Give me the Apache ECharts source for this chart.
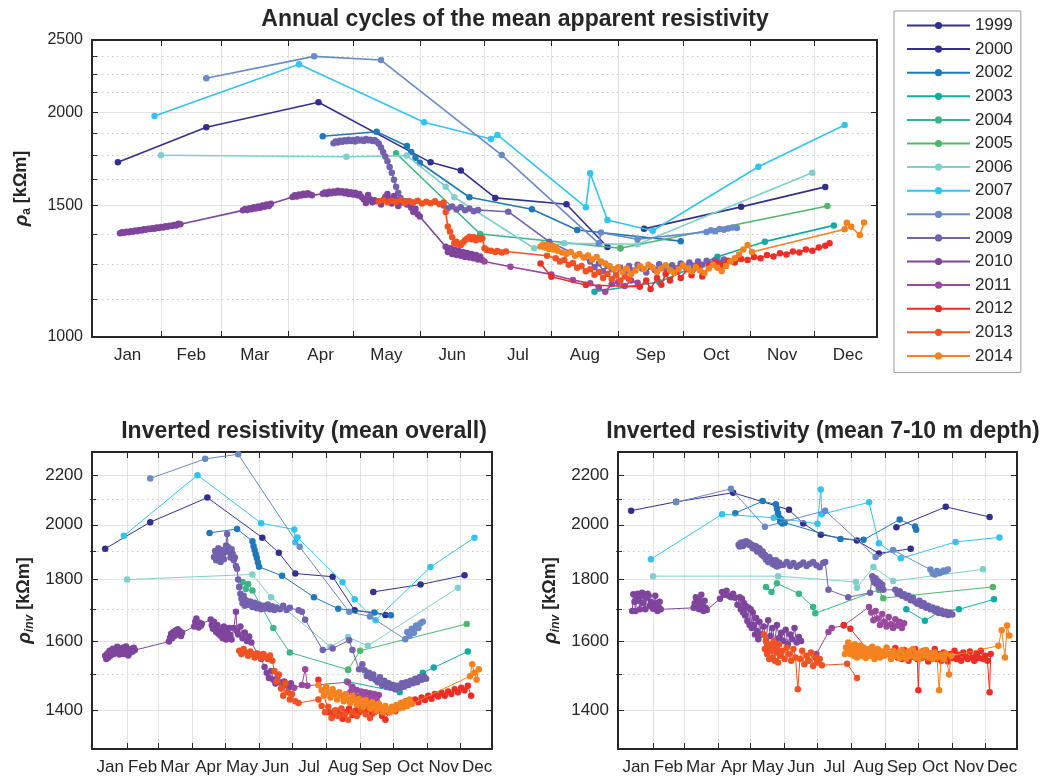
<!DOCTYPE html>
<html><head><meta charset="utf-8">
<script src="https://cdn.jsdelivr.net/npm/echarts@6/dist/echarts.min.js"></script>
<style>html,body{margin:0;padding:0;background:#fff}#c{width:1043px;height:777px}</style>
</head><body><div id="c"></div>
<script>
// ---------- labels / ticks ----------
const years = ['1999','2000','2002','2003','2004','2005','2006','2007','2008','2009','2010','2011','2012','2013','2014'];
const colors = ['#33308c','#332f8e','#1f78b8','#15aaa5','#3ab58a','#4eb76b','#7fcfca','#33c3ee','#6a89c8','#7361ae','#7f459c','#9a49a0','#ee2d26','#f05223','#f5821f'];
const monthLabels = ['Jan','Feb','Mar','Apr','May','Jun','Jul','Aug','Sep','Oct','Nov','Dec'];
const monthStarts = [31,59,90,120,151,181,212,243,273,304,334];
const monthMids = [15.5,45,74.5,105,135.5,166,196.5,227.5,258,288.5,319,349.5];
const topMajor = [1000,1500,2000,2500];
const topMinor = [1125,1250,1375,1625,1750,1875,2125,2250,2375];
const botMajor = [1400,1600,1800,2000,2200];
const botMinor = [1500,1700,1900,2100];
const titles = ['Annual cycles of the mean apparent resistivity','Inverted resistivity (mean overall)','Inverted resistivity (mean 7-10 m depth)'];

// ---------- apparent resistivity (top) : [day of year, kOhm m] ----------
const A1999 = [[255,1396],[300,1494],[339,1589]];
const A2000 = [[11,1715],[52,1910],[104,2063],[156,1714],[170,1671],[186,1536],[219,1506],[238,1320]];
const A2002 = [[106,1858],[131,1884],[145,1803],[147,1770],[149,1738],[151,1712],[174,1539],[203,1483],[224,1391],[272,1344]];
const A2003 = [[232,1150],[262,1185],[289,1281],[311,1342],[343,1411]];
const A2004 = [[140,1763],[179,1374],[244,1315]];
const A2005 = [[244,1315],[340,1498]];
const A2006 = [[31,1752],[117,1744],[145,1750],[163,1590],[167,1539],[204,1315],[218,1335],[252,1331],[333,1660]];
const A2007 = [[28,1978],[95,2320],[153,1940],[184,1842],[187,1865],[228,1492],[230,1657],[238,1435],[259,1388],[308,1691],[348,1923]];
const A2008 = [[52,2222],[102,2377],[133,2350],[189,1753],[234,1335],[235,1380],[252,1352],[284,1383],[286,1390],[288,1386],[290,1395],[292,1392],[294,1398],[296,1402],[298,1400]];
const A2009 = [[111,1818],[112,1828],[113,1822],[114,1832],[115,1826],[116,1835],[117,1829],[118,1838],[119,1831],[120,1836],[121,1828],[122,1840],[123,1833],[124,1838],[125,1830],[126,1842],[127,1835],[128,1838],[129,1830],[130,1836],[131,1826],[132,1815],[133,1795],[134,1770],[135,1745],[136,1720],[137,1690],[138,1660],[139,1625],[140,1590],[141,1560],[142,1535],[162,1500],[164,1488],[166,1496],[168,1482],[170,1492],[172,1478],[174,1486],[176,1474],[178,1480],[192,1472],[211,1342],[230,1262],[232,1240],[234,1255],[236,1225],[238,1245],[240,1232],[242,1210],[244,1238],[246,1222],[248,1245],[250,1228],[252,1250],[254,1235],[256,1220],[258,1242],[260,1230],[262,1252],[264,1238],[266,1226],[268,1248],[270,1236],[272,1255],[274,1242],[276,1258],[278,1246],[280,1262],[282,1250],[284,1265],[286,1255],[288,1268],[290,1258],[292,1270]];
const A2010 = [[12,1377],[13,1381],[14,1379],[15,1384],[16,1382],[17,1386],[18,1384],[19,1389],[20,1387],[21,1391],[22,1389],[23,1394],[24,1392],[25,1397],[26,1395],[27,1399],[28,1397],[29,1402],[30,1400],[31,1404],[32,1402],[33,1407],[34,1405],[35,1410],[36,1408],[37,1413],[38,1411],[39,1418],[40,1416],[69,1478],[70,1484],[71,1480],[72,1488],[73,1483],[74,1492],[75,1487],[76,1496],[77,1490],[78,1500],[79,1494],[80,1505],[81,1498],[82,1508],[92,1540],[93,1548],[94,1543],[95,1552],[96,1547],[97,1556],[98,1550],[99,1558],[100,1552],[101,1548],[106,1556],[107,1562],[108,1555],[109,1565],[110,1558],[111,1567],[112,1560],[113,1570],[114,1562],[115,1568],[116,1558],[117,1566],[118,1555],[119,1563],[120,1552],[121,1560],[122,1548],[123,1555],[124,1540],[125,1530],[126,1512],[127,1550],[128,1530],[129,1515],[130,1525],[131,1520],[133,1505],[135,1540],[136,1555],[137,1530],[138,1510],[139,1545],[140,1525],[141,1498],[143,1515],[145,1505],[147,1490],[148,1470],[149,1485],[150,1460],[151,1450],[163,1321],[164,1300],[165,1315],[166,1292],[167,1310],[168,1288],[169,1305],[170,1285],[171,1300],[172,1280],[173,1296],[174,1278],[175,1292],[176,1275],[177,1288],[178,1270],[179,1282],[180,1268]];
const A2011 = [[181,1262],[193,1242],[212,1213],[222,1192],[230,1180],[234,1165],[237,1150],[240,1178],[243,1185],[246,1170],[249,1190],[252,1182]];
const A2012 = [[207,1255],[212,1204],[228,1174],[253,1168],[256,1190],[258,1160],[261,1200],[263,1175],[265,1215],[267,1190],[270,1225],[272,1200],[275,1232],[277,1210],[280,1240],[282,1205],[285,1245],[288,1258],[291,1250],[294,1265],[297,1258],[300,1272],[303,1268],[306,1280],[309,1275],[312,1288],[315,1282],[318,1295],[321,1290],[324,1302],[327,1298],[330,1310],[333,1305],[336,1318],[339,1325],[341,1335]];
const A2013 = [[132,1520],[134,1526],[136,1515],[138,1523],[140,1517],[142,1525],[144,1512],[146,1521],[148,1514],[150,1522],[152,1510],[154,1518],[156,1511],[158,1520],[160,1507],[162,1514],[163,1470],[164,1406],[165,1385],[166,1360],[167,1335],[168,1342],[169,1330],[170,1328],[171,1338],[172,1348],[173,1355],[174,1362],[175,1352],[176,1360],[177,1348],[178,1358],[179,1352],[180,1356],[181,1315],[182,1308],[184,1305],[186,1300],[187,1304],[189,1298],[191,1302],[210,1285],[214,1275],[216,1262],[218,1268],[220,1250],[222,1256],[224,1238],[226,1245],[228,1225],[230,1232],[232,1212],[234,1222],[236,1200],[238,1215],[240,1195],[242,1210],[244,1190],[246,1205],[248,1195]];
const A2014 = [[207,1322],[208,1330],[209,1318],[210,1328],[211,1312],[212,1325],[213,1310],[214,1320],[215,1305],[217,1298],[219,1292],[221,1300],[223,1285],[225,1292],[227,1278],[229,1286],[231,1270],[233,1280],[235,1262],[237,1255],[239,1245],[241,1232],[243,1240],[245,1222],[247,1235],[249,1215],[251,1228],[253,1245],[255,1232],[257,1250],[259,1238],[261,1222],[263,1235],[265,1248],[267,1230],[269,1218],[271,1232],[273,1248],[275,1236],[277,1225],[279,1240],[281,1228],[283,1218],[285,1235],[287,1250],[289,1238],[291,1226],[293,1245],[295,1262],[297,1275],[299,1290],[301,1310],[303,1328],[305,1300],[348,1394],[349,1423],[351,1405],[355,1370],[357,1424]];

// ---------- inverted resistivity, mean overall (bottom left) ----------
const M1999 = [[255,1758],[298,1783],[338,1815]];
const M2000 = [[11,1910],[52,2010],[104,2107],[154,1951],[169,1895],[184,1821],[218,1810],[238,1697],[266,1682]];
const M2002 = [[106,1969],[131,1984],[145,1938],[146,1920],[147,1905],[148,1890],[149,1876],[150,1860],[151,1845],[172,1813],[201,1740],[223,1702],[256,1690],[271,1681]];
const M2003 = [[231,1480],[279,1450],[300,1505],[310,1520],[341,1568]];
const M2004 = [[133,1775],[136,1792],[139,1768],[141,1785],[145,1763],[164,1640],[179,1565],[232,1514]];
const M2005 = [[232,1514],[243,1570],[340,1653]];
const M2006 = [[31,1800],[145,1818],[162,1740],[216,1582],[232,1612],[250,1585],[332,1772]];
const M2007 = [[28,1958],[95,2200],[153,2006],[183,1982],[184,1934],[186,1952],[227,1791],[238,1733],[257,1665],[307,1844],[347,1951]];
const M2008 = [[52,2186],[102,2270],[132,2290],[188,1917],[233,1692],[252,1677],[284,1605],[286,1628],[288,1615],[290,1638],[292,1625],[294,1648],[296,1640],[298,1655],[300,1660]];
const M2009 = [[110,1880],[111,1902],[112,1868],[113,1895],[114,1912],[115,1882],[116,1862],[117,1905],[118,1888],[119,1872],[120,1898],[121,1922],[122,1965],[123,1915],[124,1898],[125,1878],[126,1908],[127,1892],[128,1868],[129,1878],[130,1848],[131,1838],[132,1800],[133,1775],[134,1752],[135,1735],[136,1720],[137,1745],[138,1712],[139,1730],[141,1715],[143,1726],[145,1708],[147,1722],[149,1704],[151,1716],[153,1700],[155,1712],[157,1703],[159,1716],[161,1700],[163,1710],[165,1698],[167,1706],[170,1700],[173,1712],[176,1698],[179,1705],[187,1697],[190,1692],[193,1666],[209,1572],[218,1577],[233,1602],[236,1572],[242,1515],[245,1530],[247,1512],[249,1496],[251,1505],[253,1490],[255,1500],[257,1485],[259,1478],[261,1492],[263,1470],[265,1482],[267,1465],[269,1475],[271,1462],[273,1470],[275,1458],[277,1468],[279,1462],[281,1475],[283,1465],[285,1478],[287,1470],[289,1482],[291,1475],[293,1488],[295,1478],[297,1492],[299,1485],[301,1495],[303,1488]];
const M2010 = [[11,1555],[12,1545],[13,1562],[14,1550],[15,1570],[16,1556],[17,1566],[18,1576],[19,1560],[20,1571],[21,1564],[22,1582],[23,1570],[24,1559],[25,1576],[26,1565],[27,1579],[28,1560],[29,1571],[30,1583],[31,1567],[32,1556],[33,1573],[34,1565],[35,1576],[36,1568],[37,1579],[38,1572],[69,1598],[70,1610],[71,1622],[72,1608],[73,1628],[74,1615],[75,1632],[76,1620],[77,1636],[78,1622],[79,1630],[80,1615],[81,1625],[92,1645],[93,1660],[94,1670],[95,1650],[96,1642],[97,1657],[98,1647],[99,1654],[107,1667],[108,1650],[109,1638],[110,1660],[111,1645],[112,1628],[113,1650],[114,1622],[115,1640],[116,1616],[117,1636],[118,1608],[119,1645],[120,1624],[121,1604],[122,1630],[123,1614],[124,1640],[125,1618],[126,1604],[128,1640],[130,1692],[131,1630],[132,1620],[134,1645],[136,1608],[138,1626],[140,1600],[142,1614],[144,1595],[150,1560],[153,1545],[156,1522],[158,1505],[160,1490],[162,1510],[164,1485],[166,1474],[168,1495],[170,1478],[172,1464],[174,1480],[176,1470],[178,1462],[180,1475]];
const M2011 = [[183,1462],[190,1470],[193,1515],[195,1468],[232,1478],[234,1450],[236,1465],[238,1440],[240,1456],[242,1436],[244,1452],[246,1440],[248,1450],[250,1432],[252,1447],[254,1438],[256,1445],[258,1430],[260,1442]];
const M2012 = [[205,1485],[215,1395],[218,1385],[221,1400],[224,1390],[227,1378],[230,1395],[233,1405],[236,1388],[239,1400],[242,1395],[245,1410],[248,1398],[251,1405],[254,1392],[257,1410],[260,1400],[263,1385],[266,1375],[269,1395],[272,1405],[275,1398],[278,1410],[281,1420],[284,1412],[287,1425],[290,1418],[293,1430],[296,1422],[299,1435],[302,1428],[305,1440],[308,1432],[311,1445],[314,1438],[317,1448],[320,1440],[323,1452],[326,1445],[329,1458],[332,1450],[335,1462],[338,1455],[341,1468],[344,1440]];
const M2013 = [[133,1570],[135,1560],[137,1575],[139,1565],[141,1555],[143,1568],[145,1560],[147,1550],[149,1562],[151,1555],[153,1548],[155,1560],[157,1552],[159,1545],[161,1556],[163,1540],[165,1510],[167,1480],[169,1500],[171,1460],[173,1440],[175,1475],[177,1450],[179,1430],[181,1445],[184,1425],[187,1420],[205,1430],[208,1412],[211,1395],[214,1410],[217,1380],[220,1400],[223,1385],[226,1405],[229,1390],[232,1375],[236,1395],[240,1385],[244,1400],[248,1390],[252,1380],[256,1395]];
const M2014 = [[205,1470],[208,1455],[210,1440],[212,1465],[214,1450],[216,1435],[218,1458],[220,1445],[222,1430],[224,1450],[226,1440],[228,1425],[230,1445],[232,1430],[234,1420],[236,1440],[238,1428],[240,1415],[242,1432],[244,1420],[246,1410],[248,1428],[250,1418],[252,1405],[254,1422],[256,1412],[258,1400],[260,1418],[262,1408],[264,1395],[266,1412],[268,1402],[270,1395],[272,1410],[274,1400],[276,1415],[278,1405],[280,1420],[282,1408],[284,1425],[286,1412],[288,1430],[290,1418],[343,1495],[345,1530],[347,1505],[349,1485],[351,1515]];

// ---------- inverted resistivity, mean 7-10 m depth (bottom right) ----------
const D1999 = [[253,1990],[298,2070],[338,2030]];
const D2000 = [[11,2055],[52,2090],[104,2127],[155,2058],[168,2005],[184,1962],[217,1940],[237,1893],[266,1910]];
const D2002 = [[106,2045],[131,2093],[143,2080],[144,2062],[145,2045],[146,2028],[147,2012],[148,2020],[149,2005],[151,2008],[202,1946],[223,1943],[256,2020],[270,1993],[271,1981]];
const D2003 = [[262,1700],[279,1663],[291,1690],[310,1700],[342,1733]];
const D2004 = [[134,1775],[139,1758],[144,1787],[164,1752],[177,1708],[179,1687],[237,1765]];
const D2005 = [[237,1765],[241,1737],[341,1775]];
const D2006 = [[31,1812],[145,1812],[216,1792],[217,1772],[232,1844],[250,1795],[332,1836]];
const D2007 = [[29,1872],[94,2041],[141,2027],[181,2004],[184,2140],[185,2041],[228,2088],[237,1930],[257,1875],[307,1935],[347,1952]];
const D2008 = [[52,2088],[102,2143],[133,1992],[188,2055],[234,1880],[250,1905],[284,1835],[286,1822],[288,1818],[290,1830],[292,1822],[294,1826],[296,1832],[298,1830],[300,1835]];
const D2009 = [[109,1925],[110,1918],[111,1932],[112,1922],[113,1920],[114,1935],[115,1928],[116,1938],[117,1935],[118,1926],[119,1930],[120,1922],[121,1925],[122,1912],[123,1915],[124,1920],[125,1918],[126,1900],[127,1905],[128,1912],[129,1895],[130,1888],[131,1900],[132,1882],[133,1888],[134,1870],[135,1875],[136,1862],[137,1880],[138,1866],[139,1870],[140,1855],[141,1862],[142,1850],[143,1868],[144,1846],[145,1855],[146,1860],[147,1850],[150,1852],[153,1862],[156,1848],[159,1858],[162,1845],[165,1852],[168,1860],[171,1848],[174,1856],[177,1862],[180,1850],[183,1843],[186,1858],[188,1862],[191,1765],[209,1740],[229,1755],[231,1812],[232,1800],[233,1790],[234,1805],[235,1785],[236,1795],[237,1775],[238,1788],[239,1770],[240,1782],[241,1765],[252,1765],[254,1752],[256,1760],[258,1745],[260,1750],[262,1738],[264,1745],[266,1730],[268,1738],[270,1725],[272,1718],[274,1728],[276,1712],[278,1720],[280,1705],[282,1712],[284,1700],[286,1706],[288,1695],[290,1702],[292,1688],[294,1696],[296,1685],[298,1692],[300,1682],[302,1690],[304,1683]];
const D2010 = [[12,1695],[13,1750],[14,1725],[15,1695],[16,1742],[17,1752],[18,1728],[19,1700],[20,1745],[21,1755],[22,1720],[23,1748],[24,1700],[25,1738],[26,1752],[27,1745],[28,1712],[29,1725],[30,1718],[31,1702],[32,1715],[33,1745],[34,1720],[35,1695],[36,1708],[37,1725],[38,1700],[68,1705],[69,1720],[70,1740],[71,1712],[72,1730],[73,1700],[74,1725],[75,1748],[76,1715],[77,1695],[78,1728],[79,1705],[80,1698],[92,1735],[94,1758],[96,1748],[98,1762],[100,1745],[102,1740],[104,1752],[106,1738],[108,1715],[110,1740],[111,1700],[112,1735],[113,1690],[114,1720],[115,1680],[116,1710],[117,1662],[118,1705],[119,1650],[120,1700],[121,1640],[122,1690],[123,1650],[124,1620],[125,1672],[126,1630],[127,1605],[128,1660],[130,1620],[132,1645],[134,1600],[136,1665],[138,1615],[140,1640],[142,1598],[144,1650],[146,1610],[148,1625],[150,1600],[152,1635],[154,1590],[156,1620],[158,1605],[160,1640],[162,1595],[164,1612],[166,1600]];
const D2011 = [[180,1560],[191,1628],[194,1640],[205,1648],[228,1708],[230,1690],[232,1665],[234,1695],[236,1670],[238,1650],[240,1685],[242,1660],[244,1645],[246,1675],[248,1652],[250,1640],[252,1668],[254,1648],[256,1660],[258,1640],[260,1655]];
const D2012 = [[205,1650],[211,1638],[230,1560],[252,1578],[254,1550],[256,1565],[258,1545],[260,1572],[262,1555],[264,1540],[266,1568],[268,1552],[270,1575],[272,1545],[273,1455],[274,1560],[276,1548],[278,1570],[280,1552],[282,1538],[284,1562],[286,1550],[288,1575],[290,1545],[292,1560],[294,1540],[296,1565],[298,1550],[300,1538],[302,1560],[304,1548],[306,1570],[308,1545],[310,1558],[312,1540],[314,1565],[316,1552],[318,1545],[320,1568],[322,1550],[324,1540],[326,1562],[328,1548],[330,1570],[332,1545],[334,1555],[336,1540],[338,1450],[339,1560]];
const D2013 = [[132,1620],[133,1575],[134,1600],[135,1560],[136,1590],[137,1545],[138,1585],[139,1570],[140,1550],[141,1598],[142,1540],[143,1580],[144,1565],[145,1535],[146,1590],[147,1555],[149,1570],[151,1545],[153,1580],[155,1560],[157,1540],[159,1575],[161,1550],[163,1458],[165,1545],[167,1570],[169,1530],[171,1555],[173,1540],[175,1565],[177,1525],[179,1550],[181,1535],[183,1545],[185,1527],[208,1531],[217,1490]];
const D2014 = [[206,1560],[207,1580],[208,1570],[209,1595],[210,1575],[211,1560],[212,1585],[213,1570],[214,1555],[215,1590],[216,1568],[217,1550],[218,1578],[219,1562],[220,1585],[221,1570],[222,1555],[223,1580],[224,1565],[225,1548],[226,1572],[227,1560],[228,1575],[229,1555],[230,1568],[231,1582],[232,1560],[233,1545],[234,1570],[235,1558],[236,1575],[238,1550],[240,1568],[242,1555],[244,1580],[246,1560],[248,1545],[250,1570],[252,1555],[254,1565],[256,1548],[258,1572],[260,1558],[262,1545],[264,1568],[266,1555],[268,1575],[270,1550],[272,1562],[274,1545],[276,1568],[278,1555],[280,1572],[282,1550],[284,1560],[286,1545],[288,1565],[290,1550],[292,1455],[294,1558],[296,1545],[298,1562],[301,1500],[303,1555],[346,1585],[349,1633],[352,1550],[354,1648],[356,1617]];

const panelData = [
  [A1999,A2000,A2002,A2003,A2004,A2005,A2006,A2007,A2008,A2009,A2010,A2011,A2012,A2013,A2014],
  [M1999,M2000,M2002,M2003,M2004,M2005,M2006,M2007,M2008,M2009,M2010,M2011,M2012,M2013,M2014],
  [D1999,D2000,D2002,D2003,D2004,D2005,D2006,D2007,D2008,D2009,D2010,D2011,D2012,D2013,D2014]
];

// ---------- build options ----------
const FONT = '"Liberation Sans", Arial, Helvetica, sans-serif';
const INK = '#262626';
const L = v => Math.log10(v);
const toLog = arr => arr.map(p => [p[0], L(p[1])]);

const grids = [
  {left:92, top:40, width:785, height:297},
  {left:92, top:452, width:400, height:297},
  {left:618, top:452, width:399, height:297}
];

const xAxes = [], yAxes = [];
grids.forEach((g, gi) => {
  xAxes.push({
    gridIndex: gi, type: 'value', min: -1, max: 363, position: 'bottom',
    axisLine: {show: true, onZero: false, lineStyle: {color: INK, width: 2}},
    axisTick: {show: true, inside: true, length: 6, customValues: monthStarts, lineStyle: {color: INK, width: 1}},
    axisLabel: {show: true, customValues: monthMids, margin: 10, fontSize: 17, color: INK, fontFamily: FONT,
      formatter: v => monthLabels[monthMids.findIndex(m => Math.abs(m - v) < 0.01)] || ''},
    splitLine: {show: true, lineStyle: {color: '#e2e2e2', width: 1}}
  });
  xAxes.push({
    gridIndex: gi, type: 'value', min: -1, max: 363, position: 'top',
    axisLine: {show: true, onZero: false, lineStyle: {color: INK, width: 2}},
    axisTick: {show: true, inside: true, length: 6, customValues: monthStarts, lineStyle: {color: INK, width: 1}},
    axisLabel: {show: false}, splitLine: {show: false}
  });
  const top = gi === 0;
  const lo = top ? 1000 : 1300, hi = top ? 2500 : 2300;
  const maj = (top ? topMajor : botMajor).map(L);
  const min = (top ? topMinor : botMinor).map(L);
  const nm = top ? '{r|ρ}{s|a} {b|[kΩm]}' : '{r|ρ}{si|inv} {b|[kΩm]}';
  const base = {gridIndex: gi, type: 'value', min: L(lo), max: L(hi)};
  yAxes.push(Object.assign({}, base, {
    position: 'left', name: nm, nameLocation: 'middle', nameRotate: 90, nameGap: top ? 59 : 56,
    nameTextStyle: {color: INK, fontFamily: FONT, fontSize: 18, fontWeight: 'bold', rich: {
      r: {fontSize: 19, fontStyle: 'italic', fontWeight: 'bold', color: INK, fontFamily: FONT, lineHeight: 23},
      s: {fontSize: 12, color: INK, fontFamily: FONT, verticalAlign: 'bottom', lineHeight: 12},
      si: {fontSize: 12, fontStyle: 'italic', color: INK, fontFamily: FONT, verticalAlign: 'bottom', lineHeight: 12},
      b: {fontSize: 18, fontWeight: 'bold', color: INK, fontFamily: FONT, lineHeight: 23}
    }},
    axisLine: {show: true, onZero: false, lineStyle: {color: INK, width: 2}},
    axisTick: {show: true, inside: true, length: 6, customValues: maj, lineStyle: {color: INK, width: 1}},
    axisLabel: {show: true, customValues: maj, margin: 9, fontSize: top ? 16 : 17, color: INK, fontFamily: FONT,
      formatter: v => String(Math.round(Math.pow(10, v)))},
    splitLine: {show: true, lineStyle: {color: '#e2e2e2', width: 1}}
  }));
  yAxes.push(Object.assign({}, base, {
    position: 'left', axisLine: {show: false},
    axisTick: {show: true, inside: true, length: 3, customValues: min, lineStyle: {color: INK, width: 1}},
    axisLabel: {show: false},
    splitLine: {show: true, lineStyle: {color: '#c6c6c6', width: 1, type: [1.5, 3.5]}}
  }));
  yAxes.push(Object.assign({}, base, {
    position: 'right', axisLine: {show: true, onZero: false, lineStyle: {color: INK, width: 2}},
    axisTick: {show: true, inside: true, length: 6, customValues: maj, lineStyle: {color: INK, width: 1}},
    axisLabel: {show: false}, splitLine: {show: false}
  }));
  yAxes.push(Object.assign({}, base, {
    position: 'right', axisLine: {show: false},
    axisTick: {show: true, inside: true, length: 3, customValues: min, lineStyle: {color: INK, width: 1}},
    axisLabel: {show: false}, splitLine: {show: false}
  }));
});

const series = [];
panelData.forEach((list, pi) => {
  list.forEach((arr, yi) => {
    series.push({
      type: 'line', name: years[yi], xAxisIndex: pi * 2, yAxisIndex: pi * 4,
      data: toLog(arr), symbol: 'circle', symbolSize: 6.5,
      showSymbol: true, showAllSymbol: true, clip: true,
      lineStyle: {color: colors[yi], width: pi === 0 ? 1.6 : 1},
      itemStyle: {color: colors[yi]}, emphasis: {disabled: true}, z: 2 + yi * 0.01
    });
  });
});

const titleCenters = [[510, 3], [299, 415], [818, 415]];
const option = {
  animation: false,
  backgroundColor: '#ffffff',
  textStyle: {fontFamily: FONT},
  title: titles.map((t, i) => ({
    text: t, left: titleCenters[i][0], top: titleCenters[i][1], textAlign: 'center',
    textStyle: {fontSize: 23, fontWeight: 'bold', color: INK, fontFamily: FONT}
  })),
  legend: {
    data: years, orient: 'vertical', left: 894, top: 11,
    itemWidth: 63, itemHeight: 9, itemGap: 6.6,
    padding: [6, 8, 8, 12],
    borderColor: '#9a9a9a', borderWidth: 1, backgroundColor: '#fff',
    textStyle: {fontSize: 17, color: INK, fontFamily: FONT},
    lineStyle: {width: 2}, selectedMode: false
  },
  grid: grids.map(g => Object.assign({outerBoundsMode: 'none', containLabel: false}, g)),
  xAxis: xAxes,
  yAxis: yAxes,
  series: series
};

const chart = echarts.init(document.getElementById('c'), null, {renderer: 'canvas'});
chart.setOption(option);
</script>
</body></html>
